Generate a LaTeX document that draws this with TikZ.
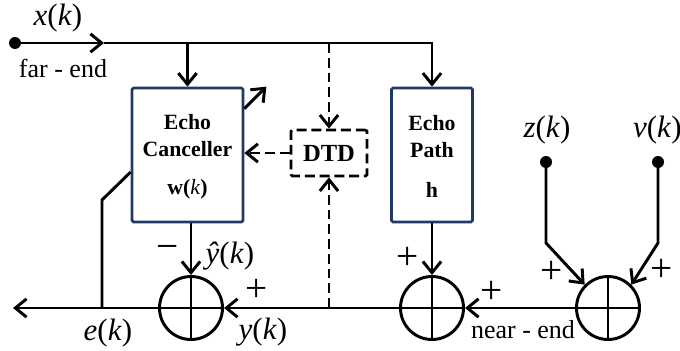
\documentclass[tikz,border=0pt]{standalone}
\usepackage{fontspec}
\setmainfont{Liberation Serif}
\usetikzlibrary{arrows.meta, positioning, calc}
\definecolor{boxnavy}{RGB}{31,56,100}

\begin{document}
\begin{tikzpicture}[
    font=\fontsize{18.5}{20}\selectfont,
    blk/.style={draw=boxnavy, line width=1.9pt, rounded corners=1pt, align=center, font=\fontsize{15.5}{19}\selectfont\bfseries, minimum height=3.35cm},
    dtdbox/.style={draw, line width=2pt, dash pattern=on 7pt off 3.5pt, rounded corners=1pt, font=\fontsize{17.5}{18}\selectfont\bfseries, minimum width=1.9cm, minimum height=1.15cm},
    sum/.style={circle, draw, line width=2.1pt, minimum size=1.575cm, inner sep=0pt,
        path picture={\draw[line width=2.1pt] (path picture bounding box.north) -- (path picture bounding box.south)
                                               (path picture bounding box.west) -- (path picture bounding box.east);}},
    dot/.style={circle, fill, inner sep=0pt, minimum size=0.3cm},
    sig/.style={font=\fontsize{22}{22}\selectfont},
    sgn/.style={font=\fontsize{28}{28}\selectfont},
    wire/.style={line width=2.1pt},
    fl/.style={wire, -{Straight Barb[length=8pt, width=13pt, line width=2.1pt]}},
    dfl/.style={fl, dash pattern=on 7pt off 3.5pt}
]
\useasboundingbox (0,0) rectangle (17,-8.775);

% ===== blocchi =====
\node[blk, minimum width=2.775cm] (EC) at (4.6875,-3.875)
  {\\[-6pt]Echo\\Canceller\\[8pt]\textbf{w}(\textnormal{\textit{k}})};
\node[blk, minimum width=2.025cm] (EP) at (10.8,-3.875)
  {\\[-6pt]Echo\\Path\\[10pt]h};
\node[dtdbox] (DTD) at (8.225,-3.825) {DTD};

% ===== sommatori =====
\node[sum] (SUM1) at (4.775,-7.7) {};
\node[sum] (SUM2) at (10.8,-7.7) {};
\node[sum] (SUM3) at (15.2,-7.7) {};

% ===== ingressi =====
\node[dot] (IN) at (0.375,-1.075) {};
\node[dot] (Z) at (13.65,-4.05) {};
\node[dot] (V) at (16.45,-4.05) {};
\coordinate (XA) at (2.6,-1.075);
\coordinate (OUT) at (0.325,-7.7);
\coordinate (EB) at (2.55,-7.7);

% riga far-end
\draw[fl] (IN.center) -- (XA);
\draw[fl] (XA) -| (EP.north);
\draw[fl] (EC.north |- IN) -- (EC.north);
\draw[dfl] (DTD.north |- IN) -- (DTD.north);

% DTD
\draw[dfl] (DTD.west) -- (EC.east |- DTD.west);
\draw[dfl] (DTD.south |- SUM2) -- (DTD.south);

% aggiornamento filtro
\draw[fl] ([yshift=-0.55cm]EC.north east) -- ++(0.55,0.55);
\draw[wire] (EB) -- ++(0,2.7) -- ([yshift=-0.425cm]EC.west);

% percorso inferiore
\draw[fl] (SUM1 |- EC.south) -- (SUM1.north);
\draw[fl] (EP.south) -- (SUM2.north);
\draw[fl] (SUM3.west) -- (SUM2.east);
\draw[fl] (SUM2.west) -- (SUM1.east);
\draw[fl] (SUM1.west) -- (OUT);

% near-end
\draw[fl] (Z.center) -- ++(0,-2.025) -- (SUM3.135);
\draw[fl] (V.center) -- ++(0,-2.025) -- (SUM3.45);

% ===== etichette =====
\node[sig] (XK) at (1.45,-0.45) {\textit{x}(\textit{k})};
\node (FAR) at (1.575,-1.7) {far - end};
\node[sig] (ZK) at (13.675,-3.25) {\textit{z}(\textit{k})};
\node[sig, anchor=east, inner xsep=0pt] (VK) at (17.05,-3.25) {\textit{v}(\textit{k})};
\node (NEAR) at (13.075,-8.25) {near - end};
\node[sig] (YHAT) at (5.75,-6.4) {\textit{ŷ}(\textit{k})};
\node[sig] (YK) at (6.575,-8.3) {\textit{y}(\textit{k})};
\node[sig] (EK) at (2.7,-8.325) {\textit{e}(\textit{k})};
\node[sgn] (M1) at (4.2,-6.3) {−};
\node[sgn] (P1) at (6.425,-7.25) {+};
\node[sgn] (P2) at (10.2,-6.45) {+};
\node[sgn] (P3) at (12.3,-7.3) {+};
\node[sgn] (P4) at (13.8,-6.8) {+};
\node[sgn] (P5) at (16.55,-6.75) {+};

\end{tikzpicture}
\end{document}
